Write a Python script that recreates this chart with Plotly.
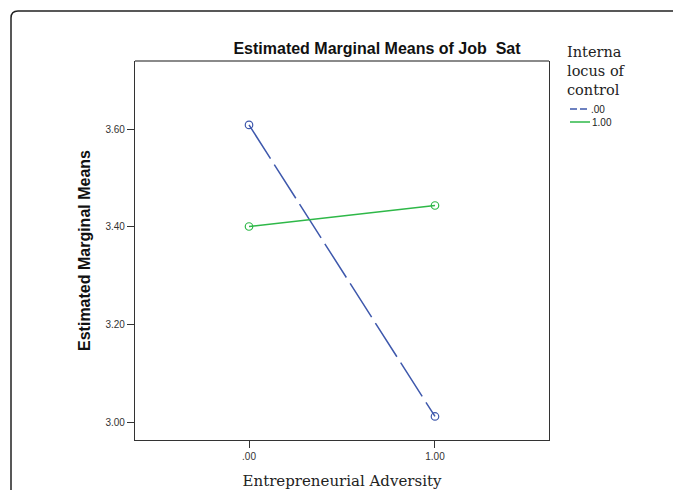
import plotly.graph_objects as go

# Data
x_vals = [0, 1]
x_ticktext = [".00", "1.00"]
y_tickvals = [3.0, 3.2, 3.4, 3.6]
y_ticktext = ["3.00", "3.20", "3.40", "3.60"]
series_names = [".00", "1.00"]
series_00 = [3.609, 3.012]
series_100 = [3.401, 3.444]

BLUE = "#3E58AC"
GREEN = "#2EB848"
SANS = "Liberation Sans, Arial"
SERIF = "DejaVu Serif"

# page offset of the figure inside the browser window
OFF = 8
W, H = 681, 490
L, T = 127, 53
R, B = 140, 58
PW, PH = W - L - R, H - T - B


def px(x):  # reference-picture x pixel -> paper x
    return (x - OFF - L) / PW


def py(y):  # reference-picture y pixel -> paper y
    return (H - B - (y - OFF)) / PH


fig = go.Figure()

fig.add_trace(go.Scatter(
    x=x_vals, y=series_00, mode="lines+markers", name=series_names[0],
    showlegend=False,
    line=dict(color=BLUE, width=1.5, dash="40px,7px"),
    marker=dict(symbol="circle-open", size=7.5, color=BLUE, line=dict(width=1.2)),
))
fig.add_trace(go.Scatter(
    x=x_vals, y=series_100, mode="lines+markers", name=series_names[1],
    showlegend=False,
    line=dict(color=GREEN, width=1.5),
    marker=dict(symbol="circle-open", size=7.5, color=GREEN, line=dict(width=1.2)),
))

# outer rounded frame
x0 = px(11); yt = py(11); xr = px(740); yb = py(540)
rx = 7 / PW; ry = 7 / PH
frame_path = f"M {x0},{yb} L {x0},{yt - ry} Q {x0},{yt} {x0 + rx},{yt} L {xr},{yt}"

shapes = [
    dict(type="path", xref="paper", yref="paper", path=frame_path,
         line=dict(color="#222", width=1.5)),
    # top border of plot box (lighter)
    dict(type="line", xref="paper", yref="paper", x0=0, x1=1, y0=1, y1=1,
         line=dict(color="#8a8a8a", width=2)),
    # legend swatches
    dict(type="line", xref="paper", yref="paper", x0=px(570), x1=px(587),
         y0=py(109), y1=py(109), line=dict(color=BLUE, width=1.5, dash="7px,3px")),
    dict(type="line", xref="paper", yref="paper", x0=px(570), x1=px(590),
         y0=py(122), y1=py(122), line=dict(color=GREEN, width=1.5)),
]

annotations = [
    dict(text="Interna<br>locus of<br>control", xref="paper", yref="paper",
         x=px(565), y=py(71), xanchor="left", yanchor="middle", align="left",
         showarrow=False, font=dict(family=SERIF, size=14.5, color="#222")),
    dict(text=series_names[0], xref="paper", yref="paper", x=px(589), y=py(109),
         xanchor="left", yanchor="middle", showarrow=False,
         font=dict(family=SANS, size=10, color="#222")),
    dict(text=series_names[1], xref="paper", yref="paper", x=px(590), y=py(122),
         xanchor="left", yanchor="middle", showarrow=False,
         font=dict(family=SANS, size=10, color="#222")),
]

fig.update_layout(
    width=W, height=H,
    margin=dict(l=L, r=R, t=T, b=B, autoexpand=False),
    paper_bgcolor="white", plot_bgcolor="white",
    showlegend=False,
    title=dict(text="Estimated Marginal Means of Job\u00a0 Sat",
               x=(377 - OFF) / W, xanchor="center",
               y=1 - (48.5 - OFF) / H, yanchor="middle",
               font=dict(family=SANS, size=16, color="#111", weight="bold")),
    xaxis=dict(range=[-0.613, 1.613], tickvals=x_vals, ticktext=x_ticktext,
               showgrid=False, zeroline=False, showline=True, mirror=False,
               linecolor="#333", linewidth=1.3, ticks="outside", ticklen=7,
               tickcolor="#333", tickwidth=1.2,
               tickfont=dict(family=SANS, size=10, color="#333"),
               title=dict(text="Entrepreneurial Adversity", standoff=14,
                          font=dict(family=SERIF, size=15, color="#222"))),
    yaxis=dict(range=[2.9638, 3.7399], tickvals=y_tickvals, ticktext=y_ticktext,
               showgrid=False, zeroline=False, showline=True, mirror=True,
               linecolor="#333", linewidth=1.3, ticks="outside", ticklen=7,
               tickcolor="#333", tickwidth=1.2,
               tickfont=dict(family=SANS, size=10, color="#333"),
               title=dict(text="Estimated Marginal Means", standoff=10,
                          font=dict(family=SANS, size=16, color="#111",
                                    weight="bold"))),
    shapes=shapes,
    annotations=annotations,
)

fig.write_html("out.html")
